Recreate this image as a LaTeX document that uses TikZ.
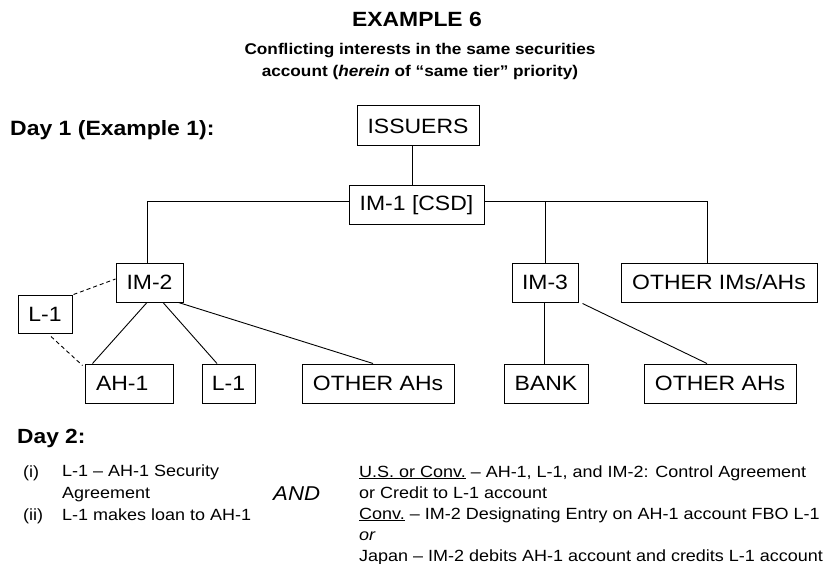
\documentclass[tikz,border=0pt]{standalone}
\usepackage{fontspec}
\setmainfont{Liberation Sans}[FakeStretch=1.11]
\newcommand\myfs[2]{\fontsize{#1}{#2}\selectfont}
\tikzset{
  box/.style={draw, line width=1pt, inner sep=0pt, font=\myfs{20.7}{24}},
  conn/.style={line width=0.9pt},
  dconn/.style={line width=0.9pt, dash pattern=on 4pt off 3pt},
  txt/.style={inner sep=0pt, anchor=base west},
}
\begin{document}
\begin{tikzpicture}[x=1pt,y=-1pt]
\useasboundingbox (0,0) rectangle (824,564);
% titles
\node[inner sep=0pt, anchor=base, font=\myfs{20.6}{24}\bfseries] (title) at (417,27) {EXAMPLE 6};
\node[inner sep=0pt, anchor=base, align=center, font=\myfs{15.5}{22}\bfseries] (sub) at (420,77)
  {Conflicting interests in the same securities\\ account (\textit{herein} of “same tier” priority)};
\node[txt, font=\myfs{20.7}{24}\bfseries] (day1) at (10,136) {Day 1 (Example 1):};
% boxes
\node[box, minimum width=122pt, minimum height=40pt] (iss) at (418,126) {ISSUERS};
\node[box, minimum width=135pt, minimum height=38pt] (im1) at (416.5,205) {IM-1 [CSD]};
\node[box, minimum width=67pt, minimum height=39pt] (im2) at (149.5,282.5) {IM-2};
\node[box, minimum width=54pt, minimum height=38pt] (l1a) at (45,314) {L-1};
\node[box, minimum height=39pt, inner xsep=11pt, text width=66pt, align=left] (ah1) at (129,383.5) {AH-1};
\node[box, minimum width=53pt, minimum height=39pt] (l1b) at (228.5,383.5) {L-1};
\node[box, minimum width=152pt, minimum height=39pt] (oah1) at (378,383.5) {OTHER AHs};
\node[box, minimum width=66pt, minimum height=39pt] (im3) at (545,282.5) {IM-3};
\node[box, minimum width=196pt, minimum height=39pt] (oimah) at (719,282.5) {OTHER IMs/AHs};
\node[box, minimum width=84pt, minimum height=39pt] (bank) at (546,383.5) {BANK};
\node[box, minimum width=152pt, minimum height=39pt] (oah2) at (720,383.5) {OTHER AHs};
% connectors
\coordinate (im1l) at ([yshift=4pt]im1.west);
\coordinate (im1r) at ([yshift=4pt]im1.east);
\draw[conn] ([xshift=-6pt]iss.south) -- ([xshift=-6pt]iss.south |- im1.north);
\draw[conn] (im1l) -| ([xshift=-2.5pt]im2.north);
\draw[conn] (im1r) -| ([xshift=-12pt]oimah.north);
\draw[conn] (im3.north) -- (im3.north |- im1r);
\draw[conn] ([xshift=-2.5pt]im2.south) -- ([xshift=8pt]ah1.north west);
\draw[conn] ([xshift=13.5pt]im2.south) -- ([xshift=-11.5pt]l1b.north);
\draw[conn] ([xshift=-5pt]im2.south east) -- ([xshift=-5pt]oah1.north);
\draw[dconn] ([xshift=1pt]l1a.north east) -- ([yshift=3.5pt]im2.west);
\draw[dconn] ([xshift=6pt,yshift=-3pt]l1a.south) -- ([xshift=-2pt,yshift=-2pt]ah1.north west);
\draw[conn] ([xshift=-1pt]im3.south) -- ([xshift=-1pt]im3.south |- bank.north);
\draw[conn] ([xshift=4pt,yshift=-1pt]im3.south east) -- ([xshift=-13pt]oah2.north);
% Day 2
\node[txt, font=\myfs{20.5}{24}\bfseries] (day2) at (17,443) {Day 2:};
\node[txt, font=\myfs{16.2}{21.2}] (ri) at (23,477) {(i)};
\node[txt, font=\myfs{16.2}{21.2}, align=left] (ti) at (62,498) {L-1 – AH-1 Security\\Agreement};
\node[txt, font=\myfs{16.2}{21.2}] (rii) at (23,520) {(ii)};
\node[txt, font=\myfs{16.2}{21.2}] (tii) at (62,520) {L-1 makes loan to AH-1};
\node[txt, font=\myfs{20}{24}\itshape] (and) at (273,500) {AND};
\node[txt, font=\myfs{16.2}{21}, align=left] (right) at (359,561)
  {\underline{U.S. or Conv.} – AH-1, L-1, and IM-2: Control Agreement\\
   or Credit to L-1 account\\
   \underline{Conv.} – IM-2 Designating Entry on AH-1 account FBO L-1\\
   \textit{or}\\
   Japan – IM-2 debits AH-1 account and credits L-1 account};
\end{tikzpicture}
\end{document}
